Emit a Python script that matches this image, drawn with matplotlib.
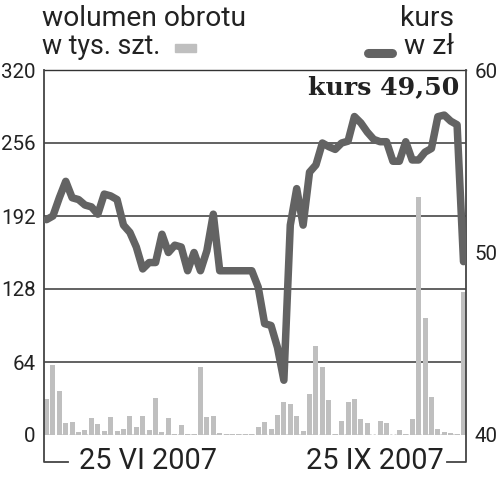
import matplotlib
matplotlib.use("Agg")
import matplotlib.pyplot as plt
import numpy as np
from matplotlib.patches import Rectangle
from matplotlib.lines import Line2D

# --- data ---
volume = [31.6, 61.6, 38.3, 10.8, 11.4, 2.6, 4.4, 14.9, 9.6, 3.5,
          16.0, 3.5, 5.0, 16.7, 7.0, 16.7, 4.4, 32.5, 3.0, 15.0,
          0.6, 9.0, 0.5, 0.5, 59.6, 15.8, 17.0, 1.7, 0.6, 0.5,
          0.5, 0.5, 0.5, 6.7, 11.7, 5.0, 17.8, 28.9, 27.2, 17.0,
          3.5, 35.9, 77.7, 59.6, 30.4, 1.0, 12.0, 28.6, 32.0, 14.0,
          10.8, 0.3, 12.0, 10.5, 0.3, 4.4, 0.5, 14.3, 208.4, 102.8,
          33.3, 5.6, 3.0, 1.7, 0.5, 125.0]
kurs = [51.8, 52.0, 53.0, 53.9, 53.0, 52.9, 52.6, 52.5, 52.1, 53.2,
        53.1, 52.9, 51.5, 51.1, 50.3, 49.1, 49.45, 49.45, 51.0, 50.0,
        50.4, 50.3, 49.0, 50.0, 49.0, 50.1, 52.1, 49.0, 49.0, 49.0,
        49.0, 49.0, 49.0, 48.1, 46.1, 46.0, 44.8, 43.0, 51.5, 53.5,
        51.5, 54.4, 54.8, 56.0, 55.8, 55.65, 56.0, 56.1, 57.45, 57.1,
        56.6, 56.2, 56.07, 56.07, 55.0, 55.0, 56.07, 55.07, 55.07, 55.5,
        55.7, 57.44, 57.53, 57.2, 57.0, 49.5]
vol_ticks = [0, 64, 128, 192, 256, 320]
kurs_ticks = [40, 50, 60]
date_labels = ["25 VI 2007", "25 IX 2007"]
last_price = "kurs 49,50"

FONT = "Roboto"
TXT = "#222222"
BAR = "#bfbfbf"
LINE = "#636363"
GRID = "#555555"

fig = plt.figure(figsize=(5.0, 4.79), dpi=100)
ax = fig.add_axes([44/500, 44/479, 422/500, 365/479])
x = np.arange(len(volume))
ax.set_xlim(-0.39, len(volume) - 1 + 0.39)
ax.set_ylim(0, 320)

for g in vol_ticks[1:-1]:
    ax.axhline(g, color=GRID, lw=1.3, zorder=1)
ax.axhline(0, color="#333333", lw=1.0, ls=(0, (1.5, 1.5)), zorder=1)
ax.bar(x, volume, width=0.78, color=BAR, zorder=2)

ax.set_yticks(vol_ticks)
ax.set_yticklabels([str(v) for v in vol_ticks], fontsize=14.8, family=FONT, color=TXT)
ax.tick_params(axis="y", length=0, pad=6)
ax.set_xticks([])
ax.spines["bottom"].set_visible(False)
ax.spines["top"].set_color("#333333")
ax.spines["top"].set_linewidth(1.0)
ax.spines["left"].set_visible(False)
ax.spines["right"].set_visible(False)

ax2 = ax.twinx()
ax2.set_ylim(40, 60)
ax2.plot(x, kurs, color=LINE, lw=5.4, solid_joinstyle="round", solid_capstyle="round", zorder=5)
ax2.set_yticks(kurs_ticks)
ax2.set_yticklabels([str(v) for v in kurs_ticks], fontsize=14.8, family=FONT, color=TXT)
ax2.tick_params(axis="y", length=0, pad=6)
for s in ["top", "bottom", "left", "right"]:
    ax2.spines[s].set_visible(False)

# spines with brackets extending below the plot
bot = -27/365
ax.add_line(Line2D([0, 0, 24/422], [1, bot, bot], transform=ax.transAxes,
                   color="#444444", lw=1.3, clip_on=False, zorder=6))
ax.add_line(Line2D([1, 1, 1 - 19/422], [1, bot, bot], transform=ax.transAxes,
                   color="#444444", lw=1.3, clip_on=False, zorder=6))
fig.text(79/500, 1 - 461/479, date_labels[0], fontsize=20.8, family=FONT, color=TXT,
         ha="left", va="center")
fig.text(444/500, 1 - 461/479, date_labels[1], fontsize=20.8, family=FONT, color=TXT,
         ha="right", va="center")

# headers / legend
fig.text(42/500, 1 - 18/479, "wolumen obrotu", fontsize=20.3, family=FONT, color=TXT,
         ha="left", va="center")
fig.text(42/500, 1 - 46/479, "w tys. szt.", fontsize=19.3, family=FONT, color=TXT,
         ha="left", va="center")
fig.patches.append(Rectangle((175/500, 1 - 52/479), 21/500, 8/479,
                             transform=fig.transFigure, color=BAR))
fig.text(454/500, 1 - 19/479, "kurs", fontsize=20.3, family=FONT, color=TXT,
         ha="right", va="center")
fig.text(454/500, 1 - 47/479, "w zł", fontsize=20.3, family=FONT, color=TXT,
         ha="right", va="center")
fig.lines.append(Line2D([368/500, 392/500], [1 - 53/479, 1 - 53/479],
                        transform=fig.transFigure, color=LINE, lw=6.5,
                        solid_capstyle="round"))
fig.text(459/500, 1 - 87/479, last_price, fontsize=18.2, family="DejaVu Serif",
         weight="bold", color=TXT, ha="right", va="center")

fig.savefig("out.png", dpi=100)
